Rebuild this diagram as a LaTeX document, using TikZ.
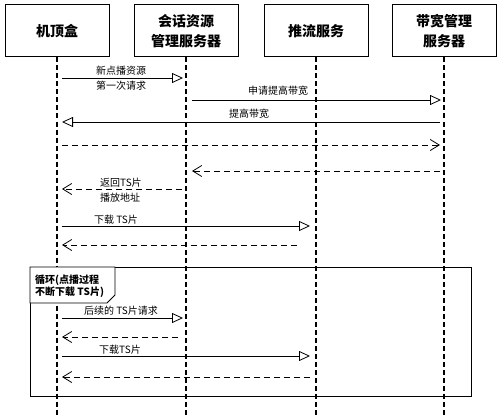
\documentclass[tikz,border=0pt]{standalone}
\usepackage{fontspec}
\newfontfamily\cjk{Noto Sans CJK SC}
\usetikzlibrary{arrows.meta}
\begin{document}
\begin{tikzpicture}[x=1pt,y=-1pt]
		% Styles
		\tikzstyle{acteur}=[draw,line width=1pt,minimum width=104pt,minimum height=52pt,align=center,font=\cjk\bfseries\fontsize{14}{20}\selectfont]
		\tikzstyle{vie}=[line width=1.1pt,dash pattern=on 5pt off 3pt]
		\tikzstyle{viefort}=[vie,line width=2pt]
		\tikzstyle{appel}=[-{Triangle[open,length=11pt,width=10pt]},line width=0.8pt,shorten <=5pt,shorten >=3pt]
		\tikzstyle{retour}=[-{Straight Barb[length=9pt,width=11pt]},line width=0.8pt,dash pattern=on 6pt off 4pt,shorten <=4pt,shorten >=5pt]
		\tikzstyle{cadre}=[draw,line width=0.9pt]
		\tikzstyle{etiquette}=[font=\cjk\fontsize{10}{15}\selectfont,align=center,inner sep=0pt]
		\tikzstyle{titreboucle}=[font=\cjk\bfseries\fontsize{10}{12}\selectfont,align=left,inner sep=0pt,anchor=west]
		% Dimensions
		\def\HautTete{31}
		\def\Bas{417}
		\def\ColA{57}
		\def\ColB{186}
		\def\ColC{316}
		\def\ColD{444}
		\useasboundingbox (0,0) rectangle (500,417);
		% Noeuds
		\node[acteur] (Stb) at (\ColA,\HautTete) {机顶盒};
		\node[acteur] (Srm) at (\ColB,\HautTete) {会话资源\\管理服务器};
		\node[acteur] (Push) at (\ColC,\HautTete) {推流服务};
		\node[acteur] (Bwm) at (\ColD,\HautTete) {带宽管理\\服务器};
		\coordinate (bas) at (0,\Bas);
		\foreach \n/\y in {1/78,2/100,3/122,4/145,5/171,6/189,7/226,8/245,9/318,10/337,11/356,12/377}
			\coordinate (h\n) at (0,\y);
		% Lignes de vie
		\draw[viefort] (Stb.south) -- (Stb.south |- bas);
		\draw[vie] (Srm.south) -- (Srm.south |- bas);
		\draw[vie] (Push.south) -- (Push.south |- bas);
		\draw[viefort] (Bwm.south) -- (Bwm.south |- bas);
		% Boucle
		\draw[cadre] (30,267) rectangle (471,396);
		\draw[cadre,fill=white] (30,267) -- (115,267) -- (115,295) -- (107,303) -- (30,303) -- cycle;
		\node[titreboucle] (Boucle) at (35,286.5) {循环(点播过程\\不断下载 TS片)};
		% Messages
		\draw[appel] (Stb |- h1) -- (Srm |- h1);
		\draw[appel,shorten <=6pt] (Srm |- h2) -- (Bwm |- h2);
		\draw[appel,shorten <=4pt,shorten >=5pt] (Bwm |- h3) -- (Stb |- h3);
		\draw[retour,shorten <=5pt,shorten >=4pt] (Stb |- h4) -- (Bwm |- h4);
		\draw[retour,shorten >=6pt] (Bwm |- h5) -- (Srm |- h5);
		\draw[retour] (Srm |- h6) -- (Stb |- h6);
		\draw[appel,shorten >=6pt] (Stb |- h7) -- (Push |- h7);
		\draw[retour,shorten <=19pt] (Push |- h8) -- (Stb |- h8);
		\draw[appel] (Stb |- h9) -- (Srm |- h9);
		\draw[retour,shorten <=8pt] (Srm |- h10) -- (Stb |- h10);
		\draw[appel,shorten >=6pt] (Stb |- h11) -- (Push |- h11);
		\draw[retour,shorten <=6pt] (Push |- h12) -- (Stb |- h12);
		% Etiquettes
		\node[etiquette] (e1) at (121,78.5) {新点播资源\\第一次请求};
		\node[etiquette] (e2) at (278,91) {申请提高带宽};
		\node[etiquette] (e3) at (249,114) {提高带宽};
		\node[etiquette,align=left,anchor=west] (e6) at (100,190) {返回TS片\\播放地址};
		\node[etiquette] (e7) at (116,220) {下载 TS片};
		\node[etiquette] (e9) at (121,311) {后续的 TS片请求};
		\node[etiquette] (e11) at (120,350) {下载TS片};
\end{tikzpicture}
\end{document}
